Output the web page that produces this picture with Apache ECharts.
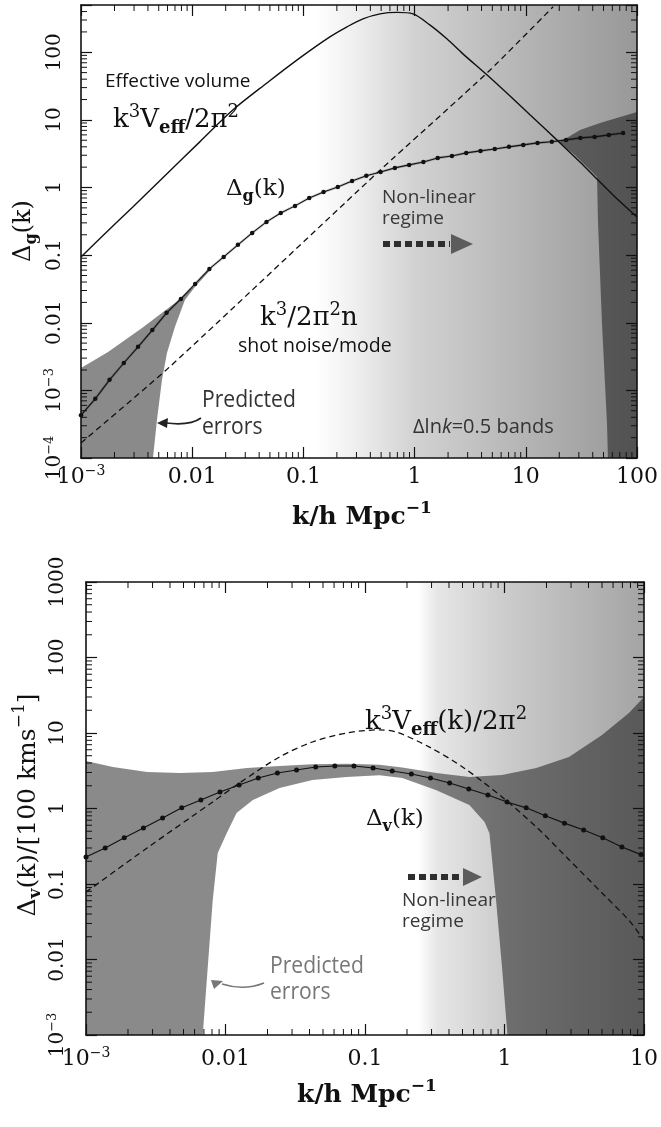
<!DOCTYPE html>
<html>
<head>
<meta charset="utf-8">
<script src="https://cdn.jsdelivr.net/npm/echarts@6/dist/echarts.min.js"></script>
<style>
html, body {margin: 0; padding: 0; background: #fff;}
#main {width: 661px; height: 1127px;}
</style>
</head>
<body>
<div id="main"></div>
<script>
// ---- top panel: galaxy power Delta_g(k) ----
const k_veff_g = [0.001, 0.00148, 0.00294, 0.00593, 0.0117, 0.0233, 0.047, 0.093, 0.173, 0.247, 0.343, 0.489, 0.695, 0.968, 1.37, 1.95, 2.72, 4.57, 7.67, 10.9, 20.3, 30.7, 43.6, 60.8, 100]
const veff_g = [0.094, 0.176, 0.521, 1.60, 4.73, 14.1, 35.2, 82.6, 169, 238, 312, 370, 389, 370, 254, 158, 94.7, 44.8, 20.5, 11.9, 4.57, 2.39, 1.34, 0.778, 0.367]

const k_dg = [0.001, 0.001344, 0.001806, 0.002426, 0.00326, 0.004381, 0.005886, 0.00791, 0.01063, 0.01428, 0.01919, 0.02578, 0.03464, 0.04655, 0.06255, 0.08406, 0.1129, 0.1518, 0.2039, 0.274, 0.3681, 0.4946, 0.6646, 0.8932, 1.2, 1.613, 2.167, 2.912, 3.913, 5.258, 7.063, 9.491, 12.75, 17.14, 23.03, 30.94, 41.57, 55.86, 75.07]
const dg = [0.00043, 0.00075, 0.00143, 0.00254, 0.0044, 0.0078, 0.014, 0.0225, 0.0375, 0.0625, 0.094, 0.142, 0.213, 0.31, 0.42, 0.535, 0.70, 0.86, 1.02, 1.25, 1.49, 1.70, 1.95, 2.16, 2.39, 2.74, 2.93, 3.25, 3.48, 3.72, 3.99, 4.27, 4.57, 4.75, 5.06, 5.42, 5.6, 6.0, 6.4]

const k_shot = [0.001, 0.00626, 0.489, 4.57, 17.6]
const shot = [0.000167, 0.00222, 1.8, 51, 470]

// predicted error band, low-k part and high-k part
const band_gl_up_k = [0.001, 0.00175, 0.00354, 0.007, 0.0106, 0.0145]
const band_gl_up = [0.00214, 0.0037, 0.0084, 0.0196, 0.036, 0.064]
const band_gl_lo_k = [0.001, 0.00444, 0.00482, 0.00535, 0.00593, 0.007, 0.0086, 0.0106, 0.0145]
const band_gl_lo = [0.0001, 0.0001, 0.000365, 0.00143, 0.00357, 0.0087, 0.0217, 0.034, 0.06]
const band_gr_up_k = [20.3, 30.7, 46.5, 100]
const band_gr_up = [4.7, 7.1, 9.0, 13.1]
const band_gr_lo_k = [20.3, 27.7, 37.8, 43.7, 44.6, 48.4, 53.7, 54.8, 100]
const band_gr_lo = [4.6, 3.0, 1.82, 1.43, 0.30, 0.0099, 0.00033, 0.0001, 0.0001]

// non-linear shading stops (k)
const shade_k_g = [0.13, 0.3, 1, 10, 100]

const x_ticks_g = [0.001, 0.01, 0.1, 1, 10, 100]
const x_text_g = ['10^-3', '0.01', '0.1', '1', '10', '100']
const y_ticks_g = [0.0001, 0.001, 0.01, 0.1, 1, 10, 100]
const y_text_g = ['10^-4', '10^-3', '0.01', '0.1', '1', '10', '100']

// ---- bottom panel: velocity power Delta_v(k) ----
const k_dv = [0.001, 0.001372, 0.001881, 0.00258, 0.00354, 0.004853, 0.006657, 0.00913, 0.01252, 0.01717, 0.02355, 0.0323, 0.0443, 0.06076, 0.08333, 0.1143, 0.1567, 0.215, 0.2948, 0.4044, 0.5546, 0.7606, 1.043, 1.431, 1.963, 2.692, 3.692, 5.063, 6.944, 9.524]
const dv = [0.228, 0.30, 0.41, 0.55, 0.75, 1.02, 1.30, 1.65, 2.05, 2.53, 2.95, 3.24, 3.55, 3.66, 3.66, 3.44, 3.14, 2.86, 2.53, 2.18, 1.81, 1.51, 1.22, 1.02, 0.80, 0.64, 0.52, 0.41, 0.31, 0.245]

const k_veff_v = [0.001, 0.00274, 0.0081, 0.0126, 0.0244, 0.042, 0.0738, 0.127, 0.168, 0.29, 0.5, 0.96, 1.69, 2.9, 5.0, 7.8, 10]
const veff_v = [0.078, 0.30, 1.22, 2.18, 4.81, 7.6, 10, 11, 10.3, 6.5, 3.55, 1.42, 0.57, 0.21, 0.076, 0.033, 0.018]

const band_v_up_k = [0.001, 0.00156, 0.00274, 0.00471, 0.0081, 0.0142, 0.0244, 0.042, 0.0738, 0.127, 0.185, 0.325, 0.56, 0.96, 1.69, 2.9, 5.0, 7.8, 10]
const band_v_up = [4.26, 3.55, 3.04, 2.95, 3.04, 3.43, 3.65, 3.85, 3.9, 3.8, 3.5, 2.95, 2.61, 2.78, 3.43, 4.81, 9.4, 18.4, 30]
const band_v_lo_k = [0.001, 0.00687, 0.00746, 0.0081, 0.0088, 0.0102, 0.012, 0.0157, 0.0244, 0.042, 0.0738, 0.127, 0.185, 0.325, 0.56, 0.72, 0.78, 0.87, 0.96, 1.05, 10]
const band_v_lo = [0.001, 0.001, 0.0079, 0.061, 0.258, 0.47, 0.87, 1.30, 1.87, 2.38, 2.61, 2.76, 2.53, 1.75, 1.11, 0.66, 0.47, 0.061, 0.0079, 0.001, 0.001]

const shade_k_v = [0.24, 0.33, 1, 10]

const x_ticks_v = [0.001, 0.01, 0.1, 1, 10]
const x_text_v = ['10^-3', '0.01', '0.1', '1', '10']
const y_ticks_v = [0.001, 0.01, 0.1, 1, 10, 100, 1000]
const y_text_v = ['10^-3', '0.01', '0.1', '1', '10', '100', '1000']

const minor_mant = [2, 3, 4, 5, 6, 7, 8, 9]

const SERIF = "'DejaVu Serif', serif"
const SANS = "'Open Sans', sans-serif"
const INK = '#111'

const zip = (a, b) => a.map((v, i) => [v, b[i]])

const tick_fmt = (ticks, texts) => v => {
    const i = ticks.findIndex(t => Math.abs(v / t - 1) < 1e-6)
    if (i < 0) return ''
    const s = texts[i]
    if (s.indexOf('^') < 0) return `{n|${s}}`
    const [b, e] = s.split('^')
    return `{n|${b}}{e|${e.replace('-', '−')}}`
}

const tick_rich = size => ({
    n: {fontFamily: SERIF, fontSize: size, lineHeight: size + 4, color: INK},
    e: {fontFamily: SERIF, fontSize: Math.round(size * 0.64), lineHeight: 12, verticalAlign: 'top', color: INK},
})

const log_axis = (grid, pos, min, max, labels, extra) => Object.assign({
    type: 'log',
    logBase: 10,
    gridIndex: grid,
    position: pos,
    min: min,
    max: max,
    z: 5,
    axisLine: {show: true, lineStyle: {color: INK, width: 1.6}},
    axisTick: {show: true, inside: true, length: 11, lineStyle: {color: INK, width: 1.2}},
    splitLine: {show: false},
    axisLabel: labels ? labels : {show: false},
}, extra || {})

// minor ticks (2..9 of each decade), inside on all four sides
const minor_series = (gi, xr, yr) => ({
    type: 'custom',
    xAxisIndex: gi * 2,
    yAxisIndex: gi * 2,
    z: 6,
    silent: true,
    clip: false,
    data: [[1, 1]],
    renderItem: (params, api) => {
        const lb = api.coord([xr[0], yr[0]])
        const rt = api.coord([xr[1], yr[1]])
        const ch = []
        const seg = (a, b, c, d) => ch.push({
            type: 'line',
            shape: {x1: a, y1: b, x2: c, y2: d},
            style: {stroke: INK, lineWidth: 1},
        })
        for (let d = xr[0]; d < xr[1] * 0.99; d *= 10) {
            minor_mant.forEach(m => {
                if (d * m >= xr[1]) return
                const px = api.coord([d * m, yr[0]])[0]
                seg(px, lb[1], px, lb[1] - 6)
                seg(px, rt[1], px, rt[1] + 6)
            })
        }
        for (let d = yr[0]; d < yr[1] * 0.99; d *= 10) {
            minor_mant.forEach(m => {
                if (d * m >= yr[1]) return
                const py = api.coord([xr[0], d * m])[1]
                seg(lb[0], py, lb[0] + 6, py)
                seg(rt[0], py, rt[0] - 6, py)
            })
        }
        return {type: 'group', children: ch}
    },
})

// non-linear regime shading
const shade_series = (gi, ks, colors, xMax, yr) => ({
    type: 'custom',
    xAxisIndex: gi * 2,
    yAxisIndex: gi * 2,
    z: 1,
    silent: true,
    clip: true,
    data: [[1, 1]],
    renderItem: (params, api) => {
        const a = api.coord([ks[0], yr[1]])
        const b = api.coord([xMax, yr[0]])
        const l0 = Math.log10(ks[0])
        const span = Math.log10(xMax) - l0
        return {
            type: 'rect',
            shape: {x: a[0], y: a[1], width: b[0] - a[0], height: b[1] - a[1]},
            style: {
                fill: {
                    type: 'linear', x: 0, y: 0, x2: 1, y2: 0,
                    colorStops: ks.map((k, i) => ({offset: (Math.log10(k) - l0) / span, color: colors[i]})),
                },
            },
        }
    },
})

const band_series = (gi, upK, upV, loK, loV) => ({
    type: 'custom',
    xAxisIndex: gi * 2,
    yAxisIndex: gi * 2,
    z: 2,
    silent: true,
    clip: true,
    data: [[1, 1]],
    renderItem: (params, api) => {
        const pts = upK.map((k, i) => api.coord([k, upV[i]]))
        for (let i = loK.length - 1; i >= 0; i--) pts.push(api.coord([loK[i], loV[i]]))
        return {type: 'polygon', shape: {points: pts}, style: {fill: 'rgba(0,0,0,0.46)'}}
    },
})

const line = (gi, data, style, extra) => Object.assign({
    type: 'line',
    xAxisIndex: gi * 2,
    yAxisIndex: gi * 2,
    z: 3,
    data: data,
    showSymbol: false,
    symbol: 'none',
    silent: true,
    lineStyle: Object.assign({color: INK, width: 1.3}, style),
}, extra || {})

// text helpers
const rich_math = (size, weight) => ({
    sup: {fontFamily: SERIF, fontSize: Math.round(size * 0.68), fontWeight: weight, lineHeight: 12, verticalAlign: 'top', fill: INK},
    sub: {fontFamily: SERIF, fontSize: Math.round(size * 0.68), fontWeight: 'bold', lineHeight: 12, verticalAlign: 'bottom', fill: INK},
    it: {fontFamily: SANS, fontSize: size, fontStyle: 'italic', fill: '#333'},
})

const txt = (x, y, text, o) => {
    o = o || {}
    const size = o.size || 22
    const el = {
        type: 'text',
        x: x,
        y: y,
        z: 50,
        silent: true,
        style: {
            text: text,
            fontFamily: o.family || SERIF,
            fontSize: size,
            fontWeight: o.weight || 'normal',
            lineHeight: size + 8,
            fill: o.color || INK,
            align: o.align || 'left',
            textAlign: o.align || 'left',
            verticalAlign: 'middle',
            textVerticalAlign: 'middle',
            rich: rich_math(size, o.weight || 'normal'),
        },
    }
    if (o.rot) el.rotation = o.rot
    if (o.sx) el.scaleX = o.sx
    return el
}

const dotted_arrow = (x0, x1, x2, y, h) => [
    {type: 'line', z: 50, silent: true, shape: {x1: x0, y1: y, x2: x1, y2: y}, style: {stroke: '#2e2e2e', lineWidth: 6, lineDash: [7, 4]}},
    {type: 'polygon', z: 50, silent: true, shape: {points: [[x1 + 1, y - h], [x2, y], [x1 + 1, y + h]]}, style: {fill: '#5c5c5c'}},
]

const curved_arrow = (p0, cp, p1, head, color) => [
    {type: 'bezierCurve', z: 50, silent: true, shape: {x1: p0[0], y1: p0[1], cpx1: cp[0], cpy1: cp[1], x2: p1[0], y2: p1[1]}, style: {stroke: color, lineWidth: 1.7, fill: null}},
    {type: 'polygon', z: 50, silent: true, shape: {points: head}, style: {fill: color}},
]

const chart = echarts.init(document.getElementById('main'), null, {renderer: 'canvas'})

chart.setOption({
    animation: false,
    backgroundColor: '#fff',
    grid: [
        {left: 81, top: 5, width: 556, height: 453},
        {left: 86, top: 582, width: 559, height: 453},
    ],
    xAxis: [
        log_axis(0, 'bottom', 0.001, 100, {
            show: true, margin: 6, formatter: tick_fmt(x_ticks_g, x_text_g), rich: tick_rich(22),
        }),
        log_axis(0, 'top', 0.001, 100, null),
        log_axis(1, 'bottom', 0.001, 10, {
            show: true, margin: 11, formatter: tick_fmt(x_ticks_v, x_text_v), rich: tick_rich(22),
        }),
        log_axis(1, 'top', 0.001, 10, null),
    ],
    yAxis: [
        log_axis(0, 'left', 0.0001, 500, {
            show: true, margin: 14, rotate: 90, formatter: tick_fmt(y_ticks_g, y_text_g), rich: tick_rich(20),
        }),
        log_axis(0, 'right', 0.0001, 500, null),
        log_axis(1, 'left', 0.001, 1000, {
            show: true, margin: 16, rotate: 90, formatter: tick_fmt(y_ticks_v, y_text_v), rich: tick_rich(20),
        }),
        log_axis(1, 'right', 0.001, 1000, null),
    ],
    series: [
        // top panel
        shade_series(0, shade_k_g, ['#ffffff', '#eeeeee', '#d2d2d2', '#b4b4b4', '#989898'], 100, [0.0001, 500]),
        band_series(0, band_gl_up_k, band_gl_up, band_gl_lo_k, band_gl_lo),
        band_series(0, band_gr_up_k, band_gr_up, band_gr_lo_k, band_gr_lo),
        line(0, zip(k_veff_g, veff_g), {width: 1.4}, {smooth: 0.3}),
        line(0, zip(k_shot, shot), {width: 1.3, type: [6, 4]}, {smooth: 0.2}),
        line(0, zip(k_dg, dg), {width: 2.6, color: 'rgba(0,0,0,0.18)'}),
        line(0, zip(k_dg, dg), {width: 1.1}, {
            showSymbol: true, symbol: 'circle', symbolSize: 4.5, itemStyle: {color: INK},
        }),
        minor_series(0, [0.001, 100], [0.0001, 500]),

        // bottom panel
        shade_series(1, shade_k_v, ['#ffffff', '#e6e6e6', '#cccccc', '#a4a4a4'], 10, [0.001, 1000]),
        band_series(1, band_v_up_k, band_v_up, band_v_lo_k, band_v_lo),
        line(1, zip(k_veff_v, veff_v), {width: 1.3, type: [6, 4]}, {smooth: 0.3}),
        line(1, zip(k_dv, dv), {width: 1.1}, {
            showSymbol: true, symbol: 'circle', symbolSize: 5, itemStyle: {color: INK},
        }),
        minor_series(1, [0.001, 10], [0.001, 1000]),
    ],
    graphic: [
        // top panel labels
        txt(105, 82, 'Effective volume', {family: SANS, size: 19}),
        txt(113, 120, 'k{sup|3}V{sub|eff}/2π{sup|2}', {size: 26}),
        txt(226, 189, 'Δ{sub|g}(k)', {size: 23}),
        txt(382, 198, 'Non-linear', {family: SANS, size: 19, color: '#383838'}),
        txt(382, 219, 'regime', {family: SANS, size: 19, color: '#383838'}),
        ...dotted_arrow(383, 450, 473, 244, 10),
        txt(260, 318, 'k{sup|3}/2π{sup|2}n', {size: 26}),
        txt(238, 346, 'shot noise/mode', {family: SANS, size: 19.5}),
        txt(202, 400, 'Predicted', {family: SANS, size: 24, color: '#333', sx: 0.88}),
        txt(202, 427, 'errors', {family: SANS, size: 24, color: '#333', sx: 0.88}),
        ...curved_arrow([201, 418], [190, 426], [166, 423], [[157, 423], [168, 418], [167, 428]], '#222'),
        txt(413, 427, 'Δln{it|k}=0.5 bands', {family: SANS, size: 20, color: '#333'}),
        txt(24, 231, 'Δ{sub|g}(k)', {size: 24, align: 'center', rot: Math.PI / 2}),
        txt(362, 517, 'k/h Mpc{sup|−1}', {size: 25, align: 'center', weight: 'bold'}),

        // bottom panel labels
        txt(365, 722, 'k{sup|3}V{sub|eff}(k)/2π{sup|2}', {size: 26}),
        txt(366, 819, 'Δ{sub|v}(k)', {size: 23}),
        ...dotted_arrow(408, 462, 482, 877, 9),
        txt(402, 901, 'Non-linear', {family: SANS, size: 19, color: '#383838'}),
        txt(402, 922, 'regime', {family: SANS, size: 19, color: '#383838'}),
        txt(270, 966, 'Predicted', {family: SANS, size: 24, color: '#777', sx: 0.88}),
        txt(270, 992, 'errors', {family: SANS, size: 24, color: '#777', sx: 0.88}),
        ...curved_arrow([264, 983], [244, 991], [222, 984], [[211, 980], [223, 981], [214, 989]], '#777'),
        txt(28, 805, 'Δ{sub|v}(k)/[100 kms{sup|−1}]', {size: 25, align: 'center', rot: Math.PI / 2}),
        txt(367, 1095, 'k/h Mpc{sup|−1}', {size: 25, align: 'center', weight: 'bold'}),
    ],
})
</script>
</body>
</html>
